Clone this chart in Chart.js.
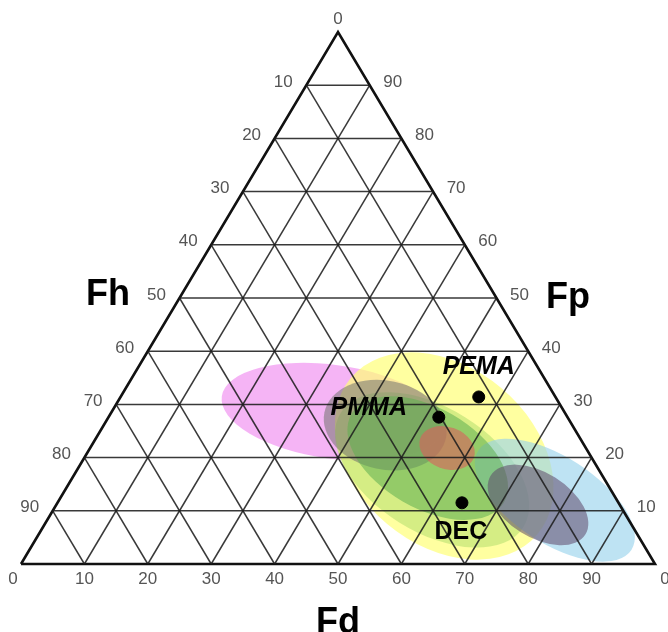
<!DOCTYPE html>
<html>
<head>
<meta charset="utf-8">
<script src="https://cdn.jsdelivr.net/npm/chart.js@4.4.1/dist/chart.umd.min.js"></script>
<style>
  html, body { margin: 0; padding: 0; background: #fff; }
  #wrap { width: 668px; height: 632px; position: relative; }
</style>
</head>
<body>
<div id="wrap"><canvas id="teas"></canvas></div>
<script>
// Tick values (%) shown on each side of the triangle
const tickValues = [10, 20, 30, 40, 50, 60, 70, 80, 90];
const cornerLabel = '0';
const titleFd = 'Fd';
const titleFp = 'Fp';
const titleFh = 'Fh';

// Polymers and solvent, fractional parameters (%)
const sampleNames = ['PEMA', 'PMMA', 'DEC'];
const sampleFd = [56.5, 52.1, 63.8];
const sampleFp = [31.4, 27.6, 11.5];

// Solubility regions: centre (Fd, Fp), semi-axes in % units, tilt in degrees
const regionNames = ['pink', 'yellow', 'lightgreen', 'blue', 'grey', 'green', 'purple', 'red'];
const regionFd = [34.9, 56.6, 56.0, 78.2, 44.4, 54.2, 76.0, 56.3];
const regionFp = [28.6, 20.3, 17.7, 12.0, 26.1, 19.9, 11.1, 21.8];
const regionMajor = [17.7, 19.2, 17.0, 14.4, 9.8, 13.9, 8.8, 4.5];
const regionMinor = [7.4, 14.0, 9.8, 6.8, 7.0, 7.9, 5.1, 3.3];
const regionTilt = [8, 40, 32, 33, 12, 30, 32, 20];

const regionColors = {
  pink: 'rgba(238,130,238,0.6)',
  yellow: 'rgba(255,255,120,0.7)',
  lightgreen: 'rgba(185,225,115,0.6)',
  blue: 'rgba(150,210,235,0.62)',
  grey: 'rgba(115,115,112,0.55)',
  green: 'rgba(95,175,80,0.55)',
  purple: 'rgba(95,72,105,0.55)',
  red: 'rgba(218,95,92,0.6)'
};

// Ternary (Fd, Fp) -> cartesian chart coordinates
function toXY(fd, fp) {
  return { x: fd + fp / 2, y: fp };
}

const gridStyle = { borderColor: 'rgba(30,30,30,0.88)', borderWidth: 1.5 };
const datasets = [];

function addLine(points, style) {
  datasets.push(Object.assign({
    type: 'line',
    data: points,
    pointRadius: 0,
    pointHoverRadius: 0,
    fill: false,
    tension: 0,
    clip: false,
    order: 2
  }, style));
}

tickValues.forEach(v => {
  // constant Fp
  addLine([toXY(0, v), toXY(100 - v, v)], gridStyle);
  // constant Fd
  addLine([toXY(v, 0), toXY(v, 100 - v)], gridStyle);
  // constant Fh
  addLine([toXY(100 - v, 0), toXY(0, 100 - v)], gridStyle);
});

// Outer triangle
addLine([toXY(0, 0), toXY(100, 0), toXY(0, 100), toXY(0, 0)],
  { borderColor: '#111', borderWidth: 2.6, borderJoinStyle: 'miter' });

// Sample points
datasets.push({
  type: 'scatter',
  data: sampleFd.map((d, i) => toXY(d, sampleFp[i])),
  pointRadius: 6,
  pointHoverRadius: 6,
  pointBackgroundColor: '#000',
  pointBorderColor: '#000',
  clip: false,
  order: 1
});

const FONT = "'Liberation Sans', Arial, sans-serif";

// Shaded solubility regions, drawn underneath the grid
const regionPlugin = {
  id: 'regions',
  beforeDatasetsDraw(chart) {
    const { ctx, scales: { x, y } } = chart;
    const unit = x.getPixelForValue(1) - x.getPixelForValue(0);
    ctx.save();
    regionNames.forEach((name, i) => {
      const c = toXY(regionFd[i], regionFp[i]);
      ctx.beginPath();
      ctx.ellipse(x.getPixelForValue(c.x), y.getPixelForValue(c.y),
        regionMajor[i] * unit, regionMinor[i] * unit,
        regionTilt[i] * Math.PI / 180, 0, Math.PI * 2);
      ctx.fillStyle = regionColors[name];
      ctx.fill();
    });
    ctx.restore();
  }
};

// Tick labels, axis titles and sample names
const labelPlugin = {
  id: 'labels',
  afterDatasetsDraw(chart) {
    const { ctx, scales: { x, y } } = chart;
    const px = (fd, fp) => {
      const p = toXY(fd, fp);
      return [x.getPixelForValue(p.x), y.getPixelForValue(p.y)];
    };
    ctx.save();
    ctx.textAlign = 'center';
    ctx.textBaseline = 'middle';
    ctx.fillStyle = '#555';
    ctx.font = '17px ' + FONT;
    tickValues.forEach(v => {
      let [a, b] = px(0, 100 - v);          // Fh along the left side
      ctx.fillText(String(v), a - 23, b - 3);
      [a, b] = px(100 - v, v);              // Fp along the right side
      ctx.fillText(String(v), a + 23, b - 3);
      [a, b] = px(v, 0);                    // Fd along the base
      ctx.fillText(String(v), a, b + 15);
    });
    let [a, b] = px(0, 100);
    ctx.fillText(cornerLabel, a, b - 13);
    [a, b] = px(0, 0);
    ctx.fillText(cornerLabel, a - 8, b + 15);
    [a, b] = px(100, 0);
    ctx.fillText(cornerLabel, a + 10, b + 15);

    // Axis titles
    ctx.fillStyle = '#000';
    ctx.font = 'bold 36px ' + FONT;
    ctx.textBaseline = 'alphabetic';
    ctx.fillText(titleFh, 108, 305);
    ctx.fillText(titleFp, 568, 308);
    ctx.fillText(titleFd, 338, 633);

    // Sample names
    const offsets = [[0, -30], [-70, -9], [-1, 29]];
    const styles = ['italic bold 25px ', 'italic bold 25px ', 'bold 25px '];
    ctx.textBaseline = 'middle';
    sampleNames.forEach((n, i) => {
      const [sx, sy] = px(sampleFd[i], sampleFp[i]);
      ctx.font = styles[i] + FONT;
      ctx.fillText(n, sx + offsets[i][0], sy + offsets[i][1]);
    });
    ctx.restore();
  }
};

new Chart(document.getElementById('teas'), {
  type: 'scatter',
  data: { datasets },
  options: {
    responsive: true,
    maintainAspectRatio: false,
    animation: false,
    events: [],
    layout: { padding: { left: 21, right: 13, top: 32, bottom: 68 } },
    scales: {
      x: { type: 'linear', min: 0, max: 100, display: false },
      y: { type: 'linear', min: 0, max: 100, display: false }
    },
    plugins: {
      legend: { display: false },
      tooltip: { enabled: false }
    }
  },
  plugins: [regionPlugin, labelPlugin]
});
</script>
</body>
</html>
